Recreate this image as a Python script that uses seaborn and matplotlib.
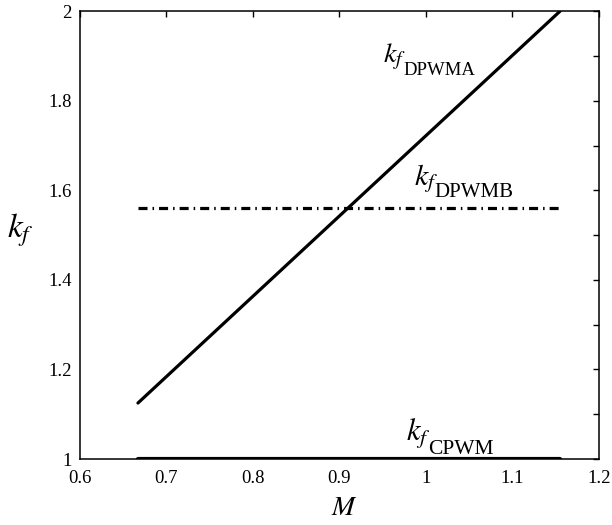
import numpy as np
import pandas as pd
import matplotlib
matplotlib.use("Agg")
import matplotlib.pyplot as plt
import seaborn as sns

# modulation index range and switching-loss factor for each PWM method
m_range = [0.667, 1.155]
kf_dpwma = [1.125, 2.0]
kf_dpwmb = [1.56, 1.56]
kf_cpwm = [1.0, 1.0]

x_ticks = [0.6, 0.7, 0.8, 0.9, 1.0, 1.1, 1.2]
x_tick_labels = ["0.6", "0.7", "0.8", "0.9", "1", "1.1", "1.2"]
y_ticks = [1.0, 1.2, 1.4, 1.6, 1.8, 2.0]
y_tick_labels = ["1", "1.2", "1.4", "1.6", "1.8", "2"]
y_minor = [1.1, 1.3, 1.5, 1.7, 1.9]

sns.set_style("white")
plt.rcParams["font.family"] = ["Liberation Serif", "DejaVu Serif"]
plt.rcParams["mathtext.fontset"] = "stix"
plt.rcParams["lines.scale_dashes"] = False
plt.rcParams["xtick.direction"] = "in"
plt.rcParams["ytick.direction"] = "in"
plt.rcParams["xtick.top"] = True
plt.rcParams["ytick.right"] = True
plt.rcParams["text.color"] = "black"

df = pd.DataFrame({"M": m_range, "DPWMA": kf_dpwma,
                   "DPWMB": kf_dpwmb, "CPWM": kf_cpwm})

fig = plt.figure(figsize=(6.12, 5.25), dpi=100)
ax = fig.add_axes([0.1307, 0.1257, 0.848, 0.853])

sns.lineplot(data=df, x="M", y="DPWMA", color="black", lw=2.3, ax=ax)
sns.lineplot(data=df, x="M", y="DPWMB", color="black", lw=2.3, ax=ax)
ax.lines[-1].set_dashes([6.5, 3.6, 1.1, 3.6])
sns.lineplot(data=df, x="M", y="CPWM", color="black", lw=3.0, ax=ax)

ax.set_xlim(0.6, 1.2)
ax.set_ylim(1.0, 2.0)
ax.set_xticks(x_ticks)
ax.set_xticklabels(x_tick_labels)
ax.set_yticks(y_ticks)
ax.set_yticklabels(y_tick_labels)
ax.set_yticks(y_minor, minor=True)
ax.tick_params(which="both", direction="in", top=True, right=True,
               length=4, width=1, colors="black", labelsize=13.5)
ax.tick_params(axis="x", pad=8)
ax.tick_params(axis="y", pad=6)
for s in ax.spines.values():
    s.set_color("black")
    s.set_linewidth(1.1)

ax.set_xlabel("")
ax.set_ylabel("")
fig.text(0.562, 0.019, "$M$", fontsize=20, ha="center", va="baseline")
fig.text(0.012, 0.547, "$k_f$", fontsize=24, ha="left", va="baseline")

# curve labels: k_f with a roman subscript
labels = [("DPWMA", 0.950, 1.885, 20.5, 13.5, 15, -9),
          ("DPWMB", 0.986, 1.612, 21.5, 15, 15, -9),
          ("CPWM", 0.977, 1.040, 22, 15.5, 16, -9.5)]
for name, lx, ly, ks, ss, dx, dy in labels:
    ax.text(lx, ly, "$k_f$", fontsize=ks, ha="left", va="baseline")
    ax.annotate(name, xy=(lx, ly), xytext=(dx, dy),
                textcoords="offset points", fontsize=ss,
                ha="left", va="baseline")

fig.savefig("out.png", dpi=100)
